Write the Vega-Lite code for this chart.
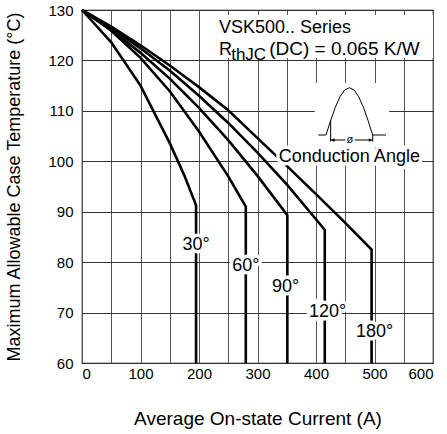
{
  "$schema": "https://vega.github.io/schema/vega-lite/v6.json",
  "width": 351,
  "height": 353,
  "autosize": "none",
  "padding": {"left": 82, "top": 10, "right": 14, "bottom": 71},
  "background": "white",
  "config": {
    "font": "Liberation Sans",
    "view": {"stroke": "black", "strokeWidth": 1.2},
    "axis": {"labelColor": "black", "titleColor": "black", "titleFontWeight": "normal", "labelFont": "Liberation Sans", "titleFont": "Liberation Sans"}
  },
  "datasets": {
    "curves": [
      {"angle": "30°", "o": 0, "I": 0, "T": 130},
      {"angle": "30°", "o": 1, "I": 50, "T": 123.6},
      {"angle": "30°", "o": 2, "I": 100, "T": 115.0},
      {"angle": "30°", "o": 3, "I": 150, "T": 103.6},
      {"angle": "30°", "o": 4, "I": 175, "T": 97.2},
      {"angle": "30°", "o": 5, "I": 195, "T": 91.3},
      {"angle": "30°", "o": 6, "I": 195, "T": 60},
      {"angle": "60°", "o": 0, "I": 0, "T": 130},
      {"angle": "60°", "o": 1, "I": 50, "T": 125.9},
      {"angle": "60°", "o": 2, "I": 100, "T": 120.5},
      {"angle": "60°", "o": 3, "I": 150, "T": 113.9},
      {"angle": "60°", "o": 4, "I": 200, "T": 105.9},
      {"angle": "60°", "o": 5, "I": 250, "T": 97.0},
      {"angle": "60°", "o": 6, "I": 280, "T": 91.0},
      {"angle": "60°", "o": 7, "I": 280, "T": 60},
      {"angle": "90°", "o": 0, "I": 0, "T": 130},
      {"angle": "90°", "o": 1, "I": 50, "T": 126.1},
      {"angle": "90°", "o": 2, "I": 100, "T": 121.5},
      {"angle": "90°", "o": 3, "I": 150, "T": 116.4},
      {"angle": "90°", "o": 4, "I": 200, "T": 110.6},
      {"angle": "90°", "o": 5, "I": 250, "T": 104.2},
      {"angle": "90°", "o": 6, "I": 300, "T": 97.1},
      {"angle": "90°", "o": 7, "I": 351, "T": 89.3},
      {"angle": "90°", "o": 8, "I": 351, "T": 60},
      {"angle": "120°", "o": 0, "I": 0, "T": 130},
      {"angle": "120°", "o": 1, "I": 50, "T": 126.5},
      {"angle": "120°", "o": 2, "I": 100, "T": 122.4},
      {"angle": "120°", "o": 3, "I": 150, "T": 118.0},
      {"angle": "120°", "o": 4, "I": 200, "T": 113.0},
      {"angle": "120°", "o": 5, "I": 250, "T": 107.6},
      {"angle": "120°", "o": 6, "I": 300, "T": 101.7},
      {"angle": "120°", "o": 7, "I": 350, "T": 95.4},
      {"angle": "120°", "o": 8, "I": 400, "T": 88.5},
      {"angle": "120°", "o": 9, "I": 415, "T": 86.4},
      {"angle": "120°", "o": 10, "I": 415, "T": 60},
      {"angle": "180°", "o": 0, "I": 0, "T": 130},
      {"angle": "180°", "o": 1, "I": 50, "T": 126.7},
      {"angle": "180°", "o": 2, "I": 100, "T": 123.0},
      {"angle": "180°", "o": 3, "I": 150, "T": 119.0},
      {"angle": "180°", "o": 4, "I": 200, "T": 114.7},
      {"angle": "180°", "o": 5, "I": 250, "T": 110.1},
      {"angle": "180°", "o": 6, "I": 300, "T": 104.6},
      {"angle": "180°", "o": 7, "I": 350, "T": 99.1},
      {"angle": "180°", "o": 8, "I": 400, "T": 93.5},
      {"angle": "180°", "o": 9, "I": 450, "T": 87.8},
      {"angle": "180°", "o": 10, "I": 495, "T": 82.5},
      {"angle": "180°", "o": 11, "I": 495, "T": 60}
    ],
    "labels": [
      {"text": "30°", "I": 195, "T": 83.4, "size": 18},
      {"text": "60°", "I": 280, "T": 79.3, "size": 18},
      {"text": "90°", "I": 348, "T": 75.0, "size": 18},
      {"text": "120°", "I": 420, "T": 70.2, "size": 18},
      {"text": "180°", "I": 500, "T": 66.2, "size": 18},
      {"text": "Conduction Angle", "I": 457, "T": 100.9, "size": 18}
    ],
    "boxes": [
      {"I": 224, "I2": 600, "T": 120.5, "T2": 129.0},
      {"I": 398, "I2": 525, "T": 102.8, "T2": 115.5}
    ],
    "shapes": [
      {"g": "hump", "o": 0, "I": 417.1, "T": 105.21},
      {"g": "hump", "o": 1, "I": 425.1, "T": 108.11},
      {"g": "hump", "o": 2, "I": 433.1, "T": 110.73},
      {"g": "hump", "o": 3, "I": 441.0, "T": 112.81},
      {"g": "hump", "o": 4, "I": 449.0, "T": 114.14},
      {"g": "hump", "o": 5, "I": 457.0, "T": 114.59},
      {"g": "hump", "o": 6, "I": 465.0, "T": 114.14},
      {"g": "hump", "o": 7, "I": 473.0, "T": 112.81},
      {"g": "hump", "o": 8, "I": 481.0, "T": 110.73},
      {"g": "hump", "o": 9, "I": 488.9, "T": 108.11},
      {"g": "hump", "o": 10, "I": 496.9, "T": 105.21},
      {"g": "bl", "o": 0, "I": 403.9, "T": 105.21},
      {"g": "bl", "o": 1, "I": 417.1, "T": 105.21},
      {"g": "br", "o": 0, "I": 496.9, "T": 105.21},
      {"g": "br", "o": 1, "I": 519.7, "T": 105.21},
      {"g": "fire", "o": 0, "I": 425.1, "T": 103.9},
      {"g": "fire", "o": 1, "I": 425.1, "T": 108.11},
      {"g": "endR", "o": 0, "I": 496.9, "T": 103.9},
      {"g": "endR", "o": 1, "I": 496.9, "T": 105.21},
      {"g": "arL", "o": 0, "I": 425.1, "T": 104.22},
      {"g": "arL", "o": 1, "I": 450, "T": 104.22},
      {"g": "arR", "o": 0, "I": 466, "T": 104.22},
      {"g": "arR", "o": 1, "I": 496.9, "T": 104.22}
    ],
    "arrows": [
      {"I": 429, "T": 104.22, "shape": "triangle-left"},
      {"I": 493, "T": 104.22, "shape": "triangle-right"}
    ],
    "notes": [
      {"text": "VSK500.. Series", "I": 234, "T": 125.4, "size": 18},
      {"text": "R", "I": 234, "T": 121.1, "size": 18},
      {"text": "thJC", "I": 255, "T": 120.0, "size": 17},
      {"text": "(DC) = 0.065 K/W", "I": 320, "T": 121.1, "size": 19}
    ]
  },
  "encoding": {
    "x": {
      "field": "I", "type": "quantitative",
      "scale": {"domain": [0, 600], "nice": false, "zero": false},
      "axis": {
        "title": "Average On-state Current (A)",
        "values": [0, 50, 100, 150, 200, 250, 300, 350, 400, 450, 500, 550, 600],
        "labelExpr": "datum.value % 100 === 0 ? datum.label : ''",
        "grid": true, "gridColor": "#555", "gridWidth": 1, "gridOpacity": 1,
        "ticks": false, "domain": false,
        "labelFontSize": 15, "labelPadding": 3,
        "titleFontSize": 19, "titlePadding": 28
      }
    },
    "y": {
      "field": "T", "type": "quantitative",
      "scale": {"domain": [60, 130], "nice": false, "zero": false},
      "axis": {
        "title": "Maximum Allowable Case Temperature (°C)",
        "values": [60, 70, 80, 90, 100, 110, 120, 130],
        "grid": true, "gridColor": "#333", "gridWidth": 1, "gridOpacity": 1,
        "ticks": false, "domain": false,
        "labelFontSize": 15, "labelPadding": 9,
        "titleFontSize": 18, "titlePadding": 24
      }
    }
  },
  "layer": [
    {
      "data": {"name": "boxes"},
      "mark": {"type": "rect", "fill": "white", "stroke": null},
      "encoding": {"x2": {"field": "I2"}, "y2": {"field": "T2"}}
    },
    {
      "data": {"name": "curves"},
      "mark": {"type": "line", "color": "black", "strokeWidth": 2.6, "strokeJoin": "miter"},
      "encoding": {"detail": {"field": "angle"}, "order": {"field": "o", "type": "quantitative"}}
    },
    {
      "data": {"name": "labels"},
      "mark": {"type": "text", "align": "center", "baseline": "middle", "stroke": "white", "strokeWidth": 7, "strokeJoin": "miter", "fill": "white"},
      "encoding": {"text": {"field": "text"}, "size": {"field": "size", "type": "quantitative", "scale": null}}
    },
    {
      "data": {"name": "labels"},
      "mark": {"type": "text", "align": "center", "baseline": "middle", "fill": "black"},
      "encoding": {"text": {"field": "text"}, "size": {"field": "size", "type": "quantitative", "scale": null}}
    },
    {
      "data": {"name": "shapes"},
      "mark": {"type": "line", "color": "black", "strokeWidth": 1},
      "encoding": {"detail": {"field": "g"}, "order": {"field": "o", "type": "quantitative"}}
    },
    {
      "data": {"name": "arrows"},
      "mark": {"type": "point", "filled": true, "color": "black", "size": 14, "opacity": 1},
      "encoding": {"shape": {"field": "shape", "type": "nominal", "scale": null}}
    },
    {
      "data": {"values": [{"text": "ø", "I": 458, "T": 104.3}]},
      "mark": {"type": "text", "align": "center", "baseline": "middle", "fontSize": 11, "fill": "black"},
      "encoding": {"text": {"field": "text"}}
    },
    {
      "data": {"name": "notes"},
      "mark": {"type": "text", "align": "left", "baseline": "alphabetic", "fill": "black"},
      "encoding": {"text": {"field": "text"}, "size": {"field": "size", "type": "quantitative", "scale": null}}
    }
  ]
}
